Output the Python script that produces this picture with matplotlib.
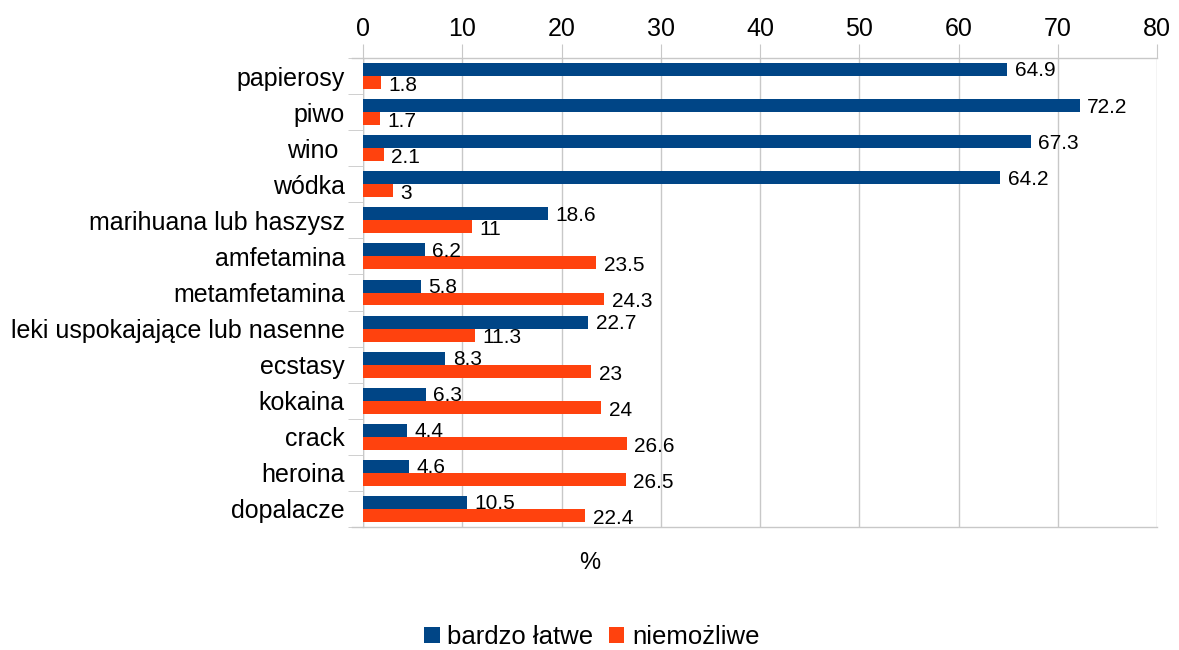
import matplotlib
matplotlib.use("Agg")
import matplotlib.pyplot as plt
import numpy as np

plt.rcParams['font.family'] = ['Liberation Sans', 'DejaVu Sans']

categories = ["papierosy", "piwo", "wino ", "wódka", "marihuana lub haszysz",
              "amfetamina", "metamfetamina", "leki uspokajające lub nasenne",
              "ecstasy", "kokaina", "crack", "heroina", "dopalacze"]
bardzo_latwe = [64.9, 72.2, 67.3, 64.2, 18.6, 6.2, 5.8, 22.7, 8.3, 6.3, 4.4, 4.6, 10.5]
niemozliwe = [1.8, 1.7, 2.1, 3, 11, 23.5, 24.3, 11.3, 23, 24, 26.6, 26.5, 22.4]
xticks = [0, 10, 20, 30, 40, 50, 60, 70, 80]

BLUE = "#004586"
ORANGE = "#ff420e"
GRID = "#c8c8c8"

fig = plt.figure(figsize=(11.79, 6.5), dpi=100)
ax = fig.add_axes([363 / 1179, 1 - 527 / 650, 794 / 1179, 469 / 650])

y = np.arange(len(categories))
h = 0.36
b1 = ax.barh(y - h / 2, bardzo_latwe, height=h, color=BLUE, label="bardzo łatwe", zorder=3)
b2 = ax.barh(y + h / 2, niemozliwe, height=h, color=ORANGE, label="niemożliwe", zorder=3)

for rect, v in zip(b1, bardzo_latwe):
    ax.text(v + 0.75, rect.get_y() + rect.get_height() / 2 + 0.04, f"{v:g}",
            va="center", ha="left", fontsize=15, zorder=4)
for rect, v in zip(b2, niemozliwe):
    ax.text(v + 0.75, rect.get_y() + rect.get_height() / 2 + 0.08, f"{v:g}",
            va="center", ha="left", fontsize=15, zorder=4)

ax.set_ylim(len(categories) - 0.5, -0.5)
ax.set_xlim(0, 80)
ax.set_xticks(xticks)
ax.xaxis.tick_top()
ax.tick_params(axis="x", length=10, color=GRID, labelsize=18, pad=2)
ax.set_yticks(y)
ax.set_yticklabels(categories, fontsize=18)
ax.set_yticks(np.arange(len(categories) + 1) - 0.5, minor=True)
ax.tick_params(axis="y", which="major", length=0, pad=13)
ax.tick_params(axis="y", which="minor", length=11, color=GRID)
ax.grid(axis="x", color=GRID, linewidth=1, zorder=0)
for s in ["left", "right", "top", "bottom"]:
    ax.spines[s].set_visible(False)
ax.axhline(-0.5, color=GRID, linewidth=1, zorder=1, clip_on=False)
ax.axhline(len(categories) - 0.5, color=GRID, linewidth=1, zorder=1, clip_on=False)
ax.plot([-1.1, 0], [-0.5, -0.5], color=GRID, lw=1, clip_on=False)
ax.plot([-1.1, 0], [12.5, 12.5], color=GRID, lw=1, clip_on=False)
ax.axvline(0, color=GRID, linewidth=1, zorder=1)

fig.text(590 / 1179, 1 - 563 / 650, "%", ha="center", va="center", fontsize=17)
fig.legend(handles=[b1, b2], loc="center", bbox_to_anchor=(592 / 1179, 1 - 637 / 650),
           ncol=2, frameon=False, fontsize=18.5, handlelength=0.6, handleheight=0.6,
           handletextpad=0.3, columnspacing=0.6)

fig.savefig("out.png", dpi=100)
